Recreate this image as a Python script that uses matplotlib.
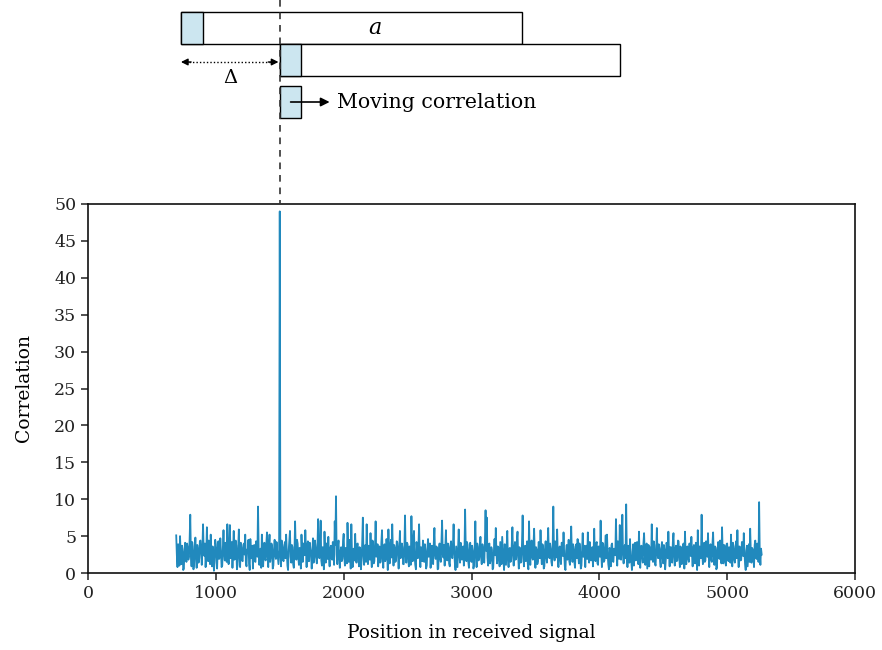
import numpy as np
import matplotlib
matplotlib.use("Agg")
import matplotlib.pyplot as plt
from matplotlib.patches import Rectangle

plt.rcParams['font.family'] = ['DejaVu Serif']

# ---------------- data ----------------
x_start = 690
x_step = 5
correlation = [
    5.1, 2.4, 0.8, 3.9, 3.2, 1.0, 5.0, 2.6, 1.2, 3.7, 2.9, 0.4, 0.6, 3.3, 4.1, 2.2, 1.5, 4.0, 3.4, 1.8,
    2.2, 4.6, 7.9, 2.5, 0.9, 4.2, 3.6, 0.5, 1.3, 3.0, 4.8, 2.1, 0.7, 3.8, 3.1, 1.4, 2.0, 4.3, 4.4, 2.7,
    1.1, 3.5, 6.6, 2.9, 2.3, 4.0, 0.8, 2.6, 6.2, 3.1, 1.6, 4.4, 3.5, 1.2, 5.2, 2.4, 0.9, 3.6, 2.8, 0.3,
    1.4, 4.5, 3.9, 2.2, 0.6, 3.4, 4.3, 1.9, 2.1, 4.7, 3.0, 0.8, 1.0, 3.3, 5.8, 2.6, 1.7, 4.1, 3.3, 1.5,
    6.6, 2.7, 1.2, 3.9, 6.5, 2.0, 2.4, 4.2, 0.7, 3.1, 5.7, 1.8, 1.9, 4.4, 3.7, 0.5, 1.1, 3.6, 5.9, 2.3,
    0.8, 4.1, 3.4, 1.7, 1.6, 3.8, 4.0, 2.5, 5.2, 1.4, 0.9, 3.2, 2.7, 4.5, 1.3, 0.4, 4.6, 2.9, 2.0, 3.7,
    0.6, 3.0, 3.8, 1.6, 1.5, 4.3, 2.9, 2.2, 9.0, 3.4, 1.1, 2.6, 3.3, 0.7, 5.2, 3.5, 0.9, 2.8, 4.1, 1.9,
    1.7, 3.9, 5.5, 2.3, 0.8, 3.6, 5.2, 1.5, 2.2, 4.0, 3.6, 0.6, 1.0, 3.2, 4.5, 2.4, 1.9, 4.2, 3.0, 2.1,
    1.2, 3.1, 49.0, 2.7, 0.9, 4.4, 3.8, 1.8, 1.6, 3.5, 4.2, 2.0, 5.2, 3.0, 1.0, 0.4, 3.1, 4.3, 5.7, 2.2,
    1.4, 3.8, 3.5, 1.2, 0.7, 2.9, 7.0, 3.3, 1.8, 4.5, 4.0, 2.1, 1.1, 3.4, 2.6, 0.6, 5.2, 3.0, 1.5, 4.0,
    3.9, 2.4, 5.8, 3.1, 0.8, 3.7, 4.3, 1.6, 1.6, 4.1, 3.2, 2.5, 0.6, 3.0, 4.7, 1.4, 2.1, 4.4, 3.6, 2.0,
    1.3, 3.6, 7.3, 2.8, 2.0, 4.1, 7.1, 1.7, 1.0, 3.5, 3.4, 0.5, 5.6, 2.9, 1.4, 4.0, 3.0, 1.9, 4.9, 2.3,
    0.9, 3.3, 3.7, 2.0, 1.8, 4.2, 2.9, 1.1, 7.0, 3.8, 10.4, 2.5, 1.2, 3.6, 4.4, 1.9, 0.7, 2.8, 3.5, 1.6,
    1.9, 4.3, 5.3, 2.2, 1.0, 3.4, 3.1, 1.3, 6.8, 3.7, 1.5, 4.5, 3.9, 0.6, 6.6, 2.7, 0.8, 3.2, 3.3, 1.7,
    5.3, 2.6, 1.4, 3.9, 4.0, 2.1, 0.9, 3.5, 3.2, 0.5, 1.7, 4.1, 7.5, 2.4, 1.1, 3.0, 3.8, 1.5, 6.6, 2.9,
    1.2, 3.7, 3.0, 1.8, 5.4, 2.3, 0.8, 4.4, 4.2, 1.3, 1.6, 3.6, 7.0, 2.2, 2.4, 3.9, 0.9, 2.7, 3.6, 1.4,
    1.5, 4.2, 5.8, 2.0, 0.7, 3.3, 3.9, 1.6, 2.0, 4.6, 3.1, 0.4, 5.9, 2.8, 1.3, 3.5, 4.5, 2.1, 6.6, 3.0,
    1.0, 3.8, 3.4, 1.5, 1.8, 4.3, 4.1, 2.6, 0.6, 3.1, 5.7, 2.0, 2.2, 4.0, 3.5, 1.2, 1.2, 3.4, 7.8, 2.5,
    1.4, 4.1, 3.9, 1.9, 0.9, 3.6, 2.8, 1.1, 7.7, 3.2, 1.6, 4.4, 5.7, 2.3, 1.1, 0.5, 4.2, 3.0, 2.0, 3.7,
    6.6, 2.4, 0.8, 3.5, 3.3, 1.6, 4.4, 2.7, 1.5, 3.9, 3.0, 0.6, 1.0, 3.3, 4.6, 2.2, 2.3, 4.0, 0.7, 2.9,
    3.7, 1.9, 1.2, 4.2, 6.1, 2.5, 1.9, 3.6, 3.4, 0.5, 0.6, 3.1, 4.0, 2.0, 1.5, 4.4, 7.1, 2.6, 2.1, 3.8,
    1.0, 3.4, 5.8, 2.2, 1.7, 4.0, 3.5, 1.3, 0.9, 3.7, 4.3, 2.4, 2.0, 3.9, 6.6, 2.8, 1.3, 0.4, 3.6, 2.1,
    0.8, 3.2, 5.9, 2.5, 1.4, 4.1, 3.2, 1.8, 2.1, 3.6, 1.0, 2.9, 8.6, 3.4, 1.6, 4.2, 3.8, 1.5, 0.7, 3.0,
    4.1, 2.3, 1.5, 3.7, 3.0, 0.6, 1.1, 3.4, 7.0, 2.6, 0.8, 4.0, 3.6, 1.7, 1.9, 3.3, 4.9, 2.2, 1.2, 3.9,
    3.3, 1.6, 1.4, 4.4, 8.5, 3.0, 7.5, 2.1, 1.0, 3.8, 4.0, 1.3, 1.8, 3.5, 3.1, 0.5, 0.7, 2.9, 4.6, 2.4,
    6.1, 2.7, 1.3, 3.6, 3.5, 1.9, 0.9, 4.2, 2.8, 1.2, 4.9, 3.1, 1.6, 0.4, 3.9, 2.5, 1.1, 3.7, 5.7, 2.0,
    0.8, 3.3, 3.4, 1.5, 1.7, 4.0, 6.2, 2.6, 1.0, 3.2, 4.2, 1.8, 2.0, 4.4, 5.6, 2.3, 0.6, 3.5, 3.2, 1.4,
    1.5, 4.1, 7.8, 2.9, 0.9, 3.4, 3.7, 1.6, 2.2, 4.3, 1.3, 0.5, 7.0, 3.0, 1.1, 3.6, 4.4, 2.1, 1.8, 3.8,
    6.0, 2.4, 0.7, 3.5, 3.1, 1.2, 1.6, 4.2, 4.0, 2.0, 5.8, 2.7, 1.2, 3.9, 3.5, 0.6, 0.9, 3.3, 4.3, 2.2,
    1.4, 3.7, 6.1, 2.5, 2.0, 4.0, 3.3, 1.5, 1.0, 3.6, 9.0, 2.8, 1.7, 4.3, 3.8, 2.1, 5.9, 2.4, 0.8, 3.1,
    3.6, 1.8, 1.2, 4.1, 4.1, 2.3, 5.5, 2.6, 0.9, 0.4, 3.0, 3.8, 1.8, 2.2, 4.5, 1.6, 1.1, 3.5, 6.3, 2.7,
    1.5, 3.9, 3.2, 1.4, 0.7, 3.6, 3.9, 2.0, 4.6, 2.5, 1.3, 4.0, 2.9, 0.6, 1.0, 3.3, 5.4, 2.2, 2.2, 3.7,
    0.8, 3.1, 3.7, 1.9, 5.5, 2.4, 1.4, 4.2, 3.3, 1.7, 1.9, 3.5, 0.9, 2.8, 6.0, 2.1, 1.6, 4.0, 4.2, 1.3,
    1.1, 3.6, 3.5, 2.2, 7.1, 2.7, 0.8, 4.1, 3.9, 1.5, 1.7, 3.4, 5.1, 2.0, 5.2, 2.6, 1.2, 0.5, 3.4, 3.0,
    0.9, 3.8, 4.0, 1.6, 1.5, 3.3, 3.1, 2.4, 7.3, 2.9, 1.0, 4.3, 3.6, 1.9, 6.5, 2.2, 1.8, 4.0, 7.9, 2.6,
    1.3, 3.5, 3.8, 2.0, 9.3, 2.8, 0.8, 3.7, 3.2, 1.4, 4.6, 2.3, 1.6, 0.4, 2.9, 3.9, 1.0, 3.1, 4.1, 1.7,
    1.9, 4.2, 3.4, 1.2, 5.6, 2.5, 0.7, 3.6, 3.7, 2.1, 1.4, 4.0, 5.4, 2.7, 1.1, 3.3, 4.0, 0.6, 2.2, 3.8,
    0.9, 3.5, 3.1, 1.8, 6.6, 2.4, 1.5, 4.3, 3.8, 1.3, 1.0, 3.0, 6.1, 2.6, 2.0, 3.9, 3.3, 1.6, 0.8, 3.4,
    4.2, 2.2, 1.3, 3.8, 3.0, 0.5, 1.8, 4.1, 3.9, 2.0, 5.6, 2.9, 0.9, 3.5, 3.5, 1.7, 1.4, 4.2, 5.4, 2.3,
    1.0, 3.3, 3.7, 1.6, 1.7, 4.4, 4.3, 2.1, 0.8, 3.6, 3.2, 1.2, 2.1, 3.9, 4.0, 0.6, 5.6, 2.7, 1.2, 3.5,
    3.6, 1.9, 1.5, 4.0, 3.1, 2.3, 4.9, 2.5, 0.9, 3.4, 3.8, 1.4, 1.3, 4.1, 2.7, 0.4, 5.8, 3.0, 1.0, 3.6,
    3.3, 2.0, 7.9, 2.8, 1.2, 3.7, 4.1, 1.5, 1.7, 4.3, 3.0, 2.2, 5.4, 2.5, 0.8, 3.5, 3.9, 1.8, 1.5, 4.0,
    5.5, 2.4, 1.1, 3.6, 3.4, 0.5, 0.7, 3.2, 4.2, 2.1, 1.9, 4.4, 3.1, 1.3, 6.2, 2.7, 1.3, 3.8, 3.7, 1.6,
    1.0, 3.9, 4.0, 2.2, 1.6, 3.5, 3.3, 1.4, 5.2, 2.6, 0.9, 4.1, 3.6, 1.8, 1.4, 3.3, 4.3, 2.0, 5.8, 2.5,
    0.8, 3.6, 3.5, 1.7, 1.8, 4.2, 4.1, 2.3, 5.4, 2.8, 1.2, 0.4, 3.0, 3.7, 0.9, 2.4, 3.9, 1.5, 6.0, 2.9,
    1.4, 3.4, 3.2, 1.9, 0.8, 3.8, 4.4, 2.2, 1.9, 4.0, 3.6, 1.5, 9.6, 2.6, 1.1, 3.3, 2.5,
]
positions = x_start + x_step * np.arange(len(correlation))

x_ticks = [0, 1000, 2000, 3000, 4000, 5000, 6000]
y_ticks = [0, 5, 10, 15, 20, 25, 30, 35, 40, 45, 50]

# diagram geometry (signal positions)
seq_a = (727, 3395)        # reference sequence a
seq_shift = (1500, 4160)   # shifted copy
window = 170               # correlation window length
lag = 1500                 # position of the peak

W, H = 882, 650
fig = plt.figure(figsize=(W / 100, H / 100), dpi=100)

ax_l, ax_r, ax_t, ax_b = 88, 855, 204, 573
ax = fig.add_axes([ax_l / W, 1 - ax_b / H, (ax_r - ax_l) / W, (ax_b - ax_t) / H])

line_color = '#2189bd'
ax.plot(positions, correlation, color=line_color, lw=1.3)

ax.set_xlim(0, 6000)
ax.set_ylim(0, 50)
ax.set_xticks(x_ticks)
ax.set_yticks(y_ticks)
ax.tick_params(direction='out', length=5, width=1.1, labelsize=12.5, colors='#222222')
for s in ax.spines.values():
    s.set_linewidth(1.2)
    s.set_color('#111111')
ax.set_xlabel('Position in received signal', fontsize=13.5, labelpad=16)
ax.set_ylabel('Correlation', fontsize=13.5, labelpad=15)

# ---------------- diagram ----------------
dg = fig.add_axes([ax_l / W, 1 - ax_t / H, (ax_r - ax_l) / W, ax_t / H])
dg.set_xlim(0, 6000)
dg.set_ylim(ax_t, 0)
dg.axis('off')

blue = '#cce6f0'
def box(x0, x1, y0, y1, fc):
    dg.add_patch(Rectangle((x0, y0), x1 - x0, y1 - y0, facecolor=fc,
                           edgecolor='black', lw=1.0, clip_on=False))

box(seq_a[0], seq_a[1], 12, 44, 'white')
box(seq_a[0], seq_a[0] + window, 12, 44, blue)
box(seq_shift[0], seq_shift[1], 44, 76, 'white')
box(seq_shift[0], seq_shift[0] + window, 44, 76, blue)
box(lag, lag + window, 86, 118, blue)

dg.plot([lag, lag], [0, ax_t], color='#333333', lw=1.2, ls=(0, (4, 3.5)), clip_on=False)

dg.text(2245, 28, 'a', style='italic', fontsize=16, ha='center', va='center')

# delta arrow
dg.plot([seq_a[0] + 60, lag - 60], [62, 62], color='black', lw=1.0, ls=(0, (1, 1.5)))
dg.annotate('', xy=(seq_a[0], 62), xytext=(seq_a[0] + 80, 62),
            arrowprops=dict(arrowstyle='-|>', lw=1.0, color='black', mutation_scale=10,
                            shrinkA=0, shrinkB=0))
dg.annotate('', xy=(lag - 10, 62), xytext=(lag - 90, 62),
            arrowprops=dict(arrowstyle='-|>', lw=1.0, color='black', mutation_scale=10,
                            shrinkA=0, shrinkB=0))
dg.text(1112, 78, 'Δ', fontsize=14, ha='center', va='center')

# moving correlation arrow
dg.annotate('', xy=(1890, 102), xytext=(1585, 102),
            arrowprops=dict(arrowstyle='-|>', lw=1.2, color='black', mutation_scale=13,
                            shrinkA=0, shrinkB=0))
dg.text(1945, 102, 'Moving correlation', fontsize=14.8, ha='left', va='center')

fig.savefig('out.png', dpi=100)
